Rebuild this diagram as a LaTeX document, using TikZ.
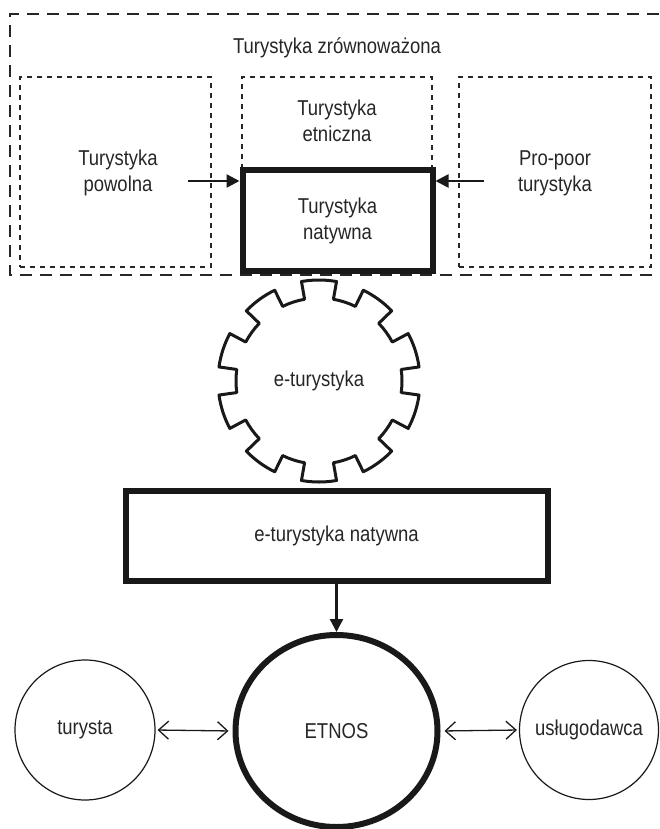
\documentclass[tikz,border=0pt]{standalone}
\usepackage{fontspec}
\setmainfont[FakeStretch=0.86]{Liberation Sans}
\usetikzlibrary{arrows.meta,shapes.geometric,calc}
\begin{document}
\begin{tikzpicture}[x=1pt,y=-1pt,
  every node/.style={font=\fontsize{21.5}{26}\selectfont, text=black!85, align=center, inner sep=0pt},
  outerdash/.style={line width=2.8pt, dash pattern=on 12pt off 8pt, draw=black!85},
  dotbox/.style={draw=black!85, line width=2.4pt, dash pattern=on 5pt off 5pt, rectangle},
  boldbox/.style={draw=black!90, line width=6pt, fill=white, rectangle},
  fillarr/.style={line width=2.4pt, draw=black!90, -{Triangle[length=13pt,width=13pt]}},
  openarr/.style={line width=1.3pt, draw=black!90, {Straight Barb[length=10pt,width=18pt]}-{Straight Barb[length=10pt,width=18pt]}},
  gearline/.style={line width=3pt, draw=black!90, line join=round},
  thincirc/.style={circle, draw=black!90, line width=1.2pt},
]
\useasboundingbox (0,0) rectangle (659,829);

% outer dashed frame
\draw[outerdash] (659,14) -- (10,14) -- (10,275) -- (659,275);
\node (title) at (337,48) {Turystyka zrównoważona};

% dotted boxes
\node[dotbox, minimum width=191pt, minimum height=190pt] (slow) at (115.5,172) {};
\node (slowtxt) at (118,173) {Turystyka\\powolna};
\node[dotbox, minimum width=190pt, minimum height=193pt] (ethnic) at (337,173.5) {};
\node (ethtxt) at (337,121) {Turystyka\\etniczna};
\node[dotbox, minimum width=192pt, minimum height=190pt] (poor) at (555,172) {};
\node (poortxt) at (555,173) {Pro-poor\\turystyka};

% bold box
\node[boldbox, minimum width=190pt, minimum height=100pt] (nat) at (337.5,220.5) {Turystyka\\natywna};

\coordinate (la) at (188,181);
\coordinate (ra) at (484,181);
\draw[fillarr] (la) -- (nat.west |- la);
\draw[fillarr] (ra) -- (nat.east |- ra);

% gear
\coordinate (gc) at (319,381);
\draw[gearline, shift={(gc)}] (80:83pt)
  \foreach \a in {90,126,...,414} {
    -- (\a-10:83pt) -- (\a-10:101pt) arc[start angle=\a-10, end angle=\a+10, radius=101pt]
    -- (\a+10:83pt) arc[start angle=\a+10, end angle=\a+26, radius=83pt]
  } -- cycle;
\node (etur) at (gc) {e-turystyka};

% e-turystyka natywna
\node[boldbox, minimum width=422pt, minimum height=90pt] (enat) at (336.5,535.5) {e-turystyka natywna};

% bottom circles
\node[ellipse, draw=black!90, line width=6pt, minimum width=202pt, minimum height=192pt] (etnos) at (336.5,731) {ETNOS};
\node[thincirc, minimum size=140pt] (tur) at (85,730) {turysta};
\node[thincirc, minimum size=139pt] (usl) at (589,730) {usługodawca};

\draw[fillarr] (enat.south) -- (etnos.north);
\draw[openarr, shorten <=2pt, shorten >=4pt] (tur.east) -- (etnos.west);
\draw[openarr, shorten <=4pt, shorten >=2pt] (etnos.east) -- (usl.west);
\end{tikzpicture}
\end{document}
